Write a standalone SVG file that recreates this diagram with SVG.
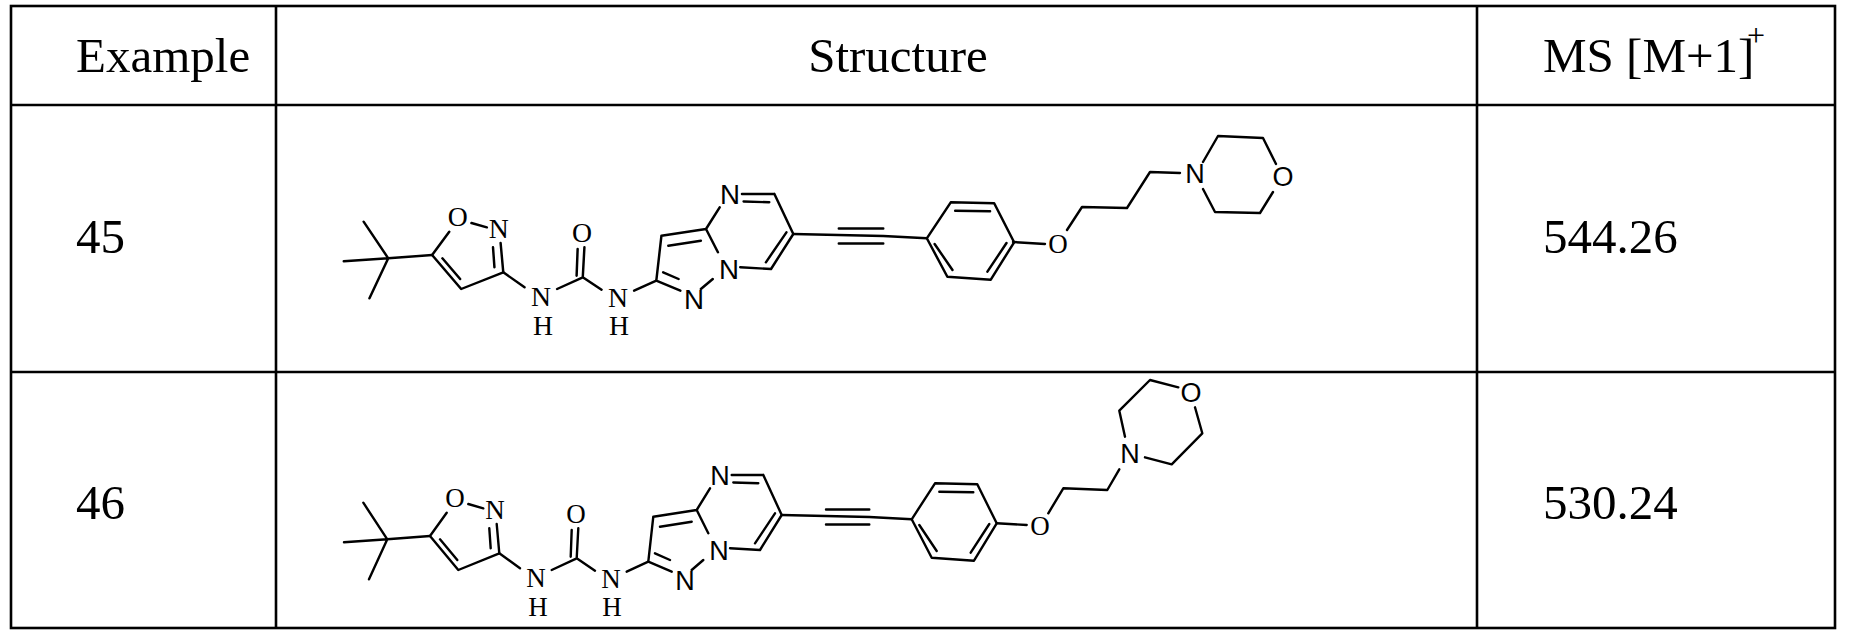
<svg xmlns="http://www.w3.org/2000/svg" width="1849" height="644" viewBox="0 0 1849 644">
<style>
.t{font-family:"Liberation Serif",serif;font-size:49px;fill:#000}
.b{stroke:#000;stroke-width:2.4;fill:none;stroke-linecap:round;stroke-linejoin:round}
.g{stroke:#000;stroke-width:2.6;fill:none}
.s{font-family:"Liberation Serif",serif;font-size:27px;fill:#000;text-anchor:middle;dominant-baseline:central}
.a{font-family:"Liberation Sans",Arial,sans-serif;font-size:27px;fill:#000;text-anchor:middle;dominant-baseline:central}
.sup{font-family:"Liberation Serif",serif;font-size:32px;fill:#000}
</style>
<rect width="1849" height="644" fill="#fff"/>
<g id="table" class="g">
<rect x="11" y="6" width="1824" height="622"/>
<line x1="276" y1="6" x2="276" y2="628"/>
<line x1="1477" y1="6" x2="1477" y2="628"/>
<line x1="11" y1="105" x2="1835" y2="105"/>
<line x1="11" y1="372" x2="1835" y2="372"/>
</g>
<g id="header">
<text class="t" x="76" y="72">Example</text>
<text class="t" x="898" y="72" text-anchor="middle">Structure</text>
<text class="t" x="1543" y="72">MS [M+1]</text>
<text class="sup" x="1747" y="46">+</text>
</g>
<g id="row45-text"><text class="t" x="76" y="253">45</text><text class="t" x="1543" y="253">544.26</text></g>
<g id="row46-text"><text class="t" x="76" y="519">46</text><text class="t" x="1543" y="519">530.24</text></g>
<defs>
<g id="core">
<path class="b" d="M387.3,539.3L363.3,502.7M387.3,539.3L344,542.3M387.3,539.3L369,579.3M387.3,539.3L430,536"/>
<path class="b" d="M430,536L446.7,512.7M468.3,504L483.3,508.3M496.7,524L499.3,553.3M489.3,528.3L490.7,548.3M499.3,553.3L458.3,570L430,536M457.3,560L440,539.3"/>
<text class="s" x="455" y="498">O</text><text class="s" x="495" y="510">N</text>
<path class="b" d="M499.3,553.3L520,568.3M551.7,570L576.7,558.3L578.3,528.3M570.7,556.7L571.7,530M576.7,558.3L595,570.7M626.7,571.7L648.3,561.7"/>
<text class="s" x="536" y="578">N</text><text class="s" x="538" y="607">H</text>
<text class="s" x="576" y="514">O</text>
<text class="s" x="611" y="579">N</text><text class="s" x="612" y="607">H</text>
<path class="b" d="M648.3,561.7L653.3,516.7L696.7,510M660,526.7L691.7,521.7M648.3,561.7L671.7,571.7M655,553.3L670,560M691.7,570L703.3,560M696.7,510L708.3,533.3M696.7,510L710,488.3"/>
<text class="a" x="685" y="581">N</text><text class="a" x="719" y="551">N</text><text class="a" x="720" y="476">N</text>
<path class="b" d="M731.7,475L763.3,475M733.3,482.5L758.3,483.3M763.3,475L781.7,515L760,550L730,548.3M775,513.3L755,543.3"/>
<path class="b" d="M781.7,515L869.3,517L911.7,519.3M826,509.5L869.3,509.5M826,524.5L869.3,524.5"/>
<path class="b" d="M911.7,519.3L935,483.3L977.3,484.3L996.7,523.3L974,560.7L931.7,557.7Z M939.3,491.7L973.3,492.3M919.3,525L936.7,551M989.3,524L970.7,552.7"/>
</g>
</defs>
<g id="mol45">
<use href="#core" transform="matrix(1.027,0,0,1,-9.5,-281)"/>
<path class="b" d="M1013,242L1045,244M1067,230L1082,207L1127,208L1150,172L1180,173M1203,162L1218,136L1263,138L1276,164M1273,192L1260,213L1215,212L1203,189"/>
<text class="s" x="1058" y="244">O</text>
<text class="a" x="1195" y="174">N</text>
<text class="a" x="1283" y="177">O</text>
</g>
<g id="mol46">
<use href="#core"/>
<path class="b" d="M996.7,523.3L1026.7,525M1048.3,513.3L1063.3,488.3L1107.3,490L1119.3,469.3M1125,436.7L1119.3,410.7L1150,380L1178.3,387.3M1195,407.3L1202.3,433.3L1171.7,464.3L1145,457.3"/>
<text class="s" x="1040" y="526">O</text>
<text class="a" x="1130" y="454">N</text>
<text class="a" x="1191" y="393">O</text>
</g>
</svg>
